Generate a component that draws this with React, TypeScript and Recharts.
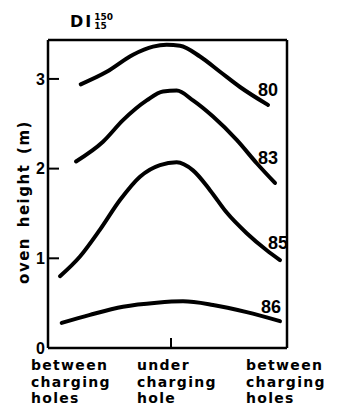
import React from 'react';
import { LineChart, Line, XAxis, YAxis } from 'recharts';

// oven width position (0 = left side, 239 = right side) and oven height (m)
const x80 = [32.7, 58.7, 85, 105, 118.7, 132, 152, 172, 192, 220];
const h80 = [2.94, 3.08, 3.27, 3.36, 3.38, 3.37, 3.25, 3.08, 2.91, 2.71];

const x83 = [28, 55, 75, 98.7, 115, 128.7, 145, 165, 188.7, 208.7, 227];
const h83 = [2.08, 2.3, 2.54, 2.76, 2.86, 2.87, 2.76, 2.58, 2.32, 2.06, 1.84];

const x85 = [12, 32, 52, 72, 92, 112, 128.7, 145, 162, 178.7, 198.7, 218.7, 232];
const h85 = [0.8, 1.02, 1.32, 1.65, 1.91, 2.04, 2.07, 1.98, 1.76, 1.51, 1.28, 1.09, 0.98];

const x86 = [13.7, 42, 75, 108.7, 135, 165, 198.7, 232];
const h86 = [0.28, 0.37, 0.46, 0.505, 0.52, 0.48, 0.4, 0.3];

const yTicks = [0, 1, 2, 3];
const rightTicks = [1, 2, 3];
const xTicks = [24, 123, 239];
const xTickLabels = [
  ['between', 'charging', 'holes'],
  ['under', 'charging', 'hole'],
  ['between', 'charging', 'holes'],
];

const toRows = (xs: number[], hs: number[]) => xs.map((x, i) => ({ x, h: hs[i] }));

const series = [
  { name: '80', data: toRows(x80, h80), dx: 0, dy: -15 },
  { name: '83', data: toRows(x83, h83), dx: -7, dy: -25 },
  { name: '85', data: toRows(x85, h85), dx: -2, dy: -18 },
  { name: '86', data: toRows(x86, h86), dx: -9, dy: -15 },
];

const labelFont = "'DejaVu Sans', Verdana, sans-serif";
const numFont = "'Liberation Sans Narrow', 'Liberation Sans', Arial, sans-serif";

const YTick = (props: any) => {
  const { x, y, payload } = props;
  return (
    <g>
      <line x1={x} y1={y} x2={x + 11} y2={y} stroke="#000" strokeWidth={2} />
      <text x={x - 3} y={y} dy="0.36em" textAnchor="end" fontFamily="'Liberation Sans', Arial" fontWeight="bold" fontSize={16} fill="#000">
        {payload.value}
      </text>
    </g>
  );
};

const RightTick = (props: any) => {
  const { x, y } = props;
  return <line x1={x} y1={y} x2={x - 10} y2={y} stroke="#000" strokeWidth={2} />;
};

const shifts = [-41, -34, -41];

const XTick = (props: any) => {
  const { x, y, index } = props;
  const lines = xTickLabels[index] || [];
  return (
    <g>
      {index === 1 && <line x1={x} y1={y} x2={x} y2={y - 10} stroke="#000" strokeWidth={2} />}
      <text fontFamily={labelFont} fontWeight="bold" fontSize={14} letterSpacing={1.3} fill="#000" textAnchor="start">
        {lines.map((t, i) => (
          <tspan key={i} x={x + shifts[index]} y={y + 22 + i * 16.5}>
            {t}
          </tspan>
        ))}
      </text>
    </g>
  );
};

const endLabel = (name: string, last: number, dx: number, dy: number) => (p: any) => {
  if (p.index !== last) return <g key={p.index} />;
  return (
    <text key={p.index} x={p.cx + dx} y={p.cy + dy} dy="0.36em" textAnchor="middle" fontFamily={numFont} fontWeight="bold" fontSize={18} fill="#000">
      {name}
    </text>
  );
};

const App = () => {
  return (
    <div style={{ position: 'relative', width: 336, height: 397, background: '#fff' }}>
      <div style={{ position: 'absolute', left: 62, top: 4, display: 'flex', alignItems: 'center', fontFamily: labelFont, fontWeight: 'bold', color: '#000' }}>
        <span style={{ fontSize: 16, letterSpacing: 2 }}>DI</span>
        <span style={{ display: 'inline-flex', flexDirection: 'column', fontSize: 9, lineHeight: '9px', marginLeft: 1 }}>
          <span>150</span>
          <span>15</span>
        </span>
      </div>
      <div
        style={{
          position: 'absolute',
          left: 16,
          top: 194,
          transform: 'translate(-50%, -50%) rotate(-90deg)',
          whiteSpace: 'nowrap',
          fontFamily: labelFont,
          fontWeight: 'bold',
          fontSize: 15,
          letterSpacing: 1.5,
          wordSpacing: 3,
          color: '#000',
        }}
      >
        oven height (m)
      </div>
      <LineChart width={336} height={397} margin={{ top: 31, right: 56, bottom: 2, left: 0 }}>
        <XAxis
          dataKey="x"
          type="number"
          domain={[0, 239]}
          ticks={xTicks}
          interval={0}
          tickLine={false}
          tickSize={0}
          tickMargin={0}
          height={55}
          tick={<XTick />}
          axisLine={{ stroke: '#000', strokeWidth: 2.5 }}
        />
        <XAxis
          xAxisId="top"
          orientation="top"
          type="number"
          domain={[0, 239]}
          height={1}
          tick={false}
          tickLine={false}
          axisLine={{ stroke: '#000', strokeWidth: 2.5 }}
        />
        <YAxis
          type="number"
          domain={[0, 3.434]}
          ticks={yTicks}
          interval={0}
          width={40}
          tickLine={false}
          tickSize={0}
          tickMargin={0}
          tick={<YTick />}
          axisLine={{ stroke: '#000', strokeWidth: 2.5 }}
        />
        <YAxis
          yAxisId="right"
          orientation="right"
          type="number"
          domain={[0.033, 3.467]}
          ticks={rightTicks}
          interval={0}
          width={1}
          tickLine={false}
          tickSize={0}
          tickMargin={0}
          tick={<RightTick />}
          axisLine={{ stroke: '#000', strokeWidth: 2.5 }}
        />
        {series.map((s) => (
          <Line
            key={s.name}
            data={s.data}
            dataKey="h"
            type="monotone"
            stroke="#000"
            strokeWidth={4}
            strokeLinecap="round"
            dot={endLabel(s.name, s.data.length - 1, s.dx, s.dy)}
            activeDot={false}
            isAnimationActive={false}
          />
        ))}
      </LineChart>
    </div>
  );
};

export default App;
